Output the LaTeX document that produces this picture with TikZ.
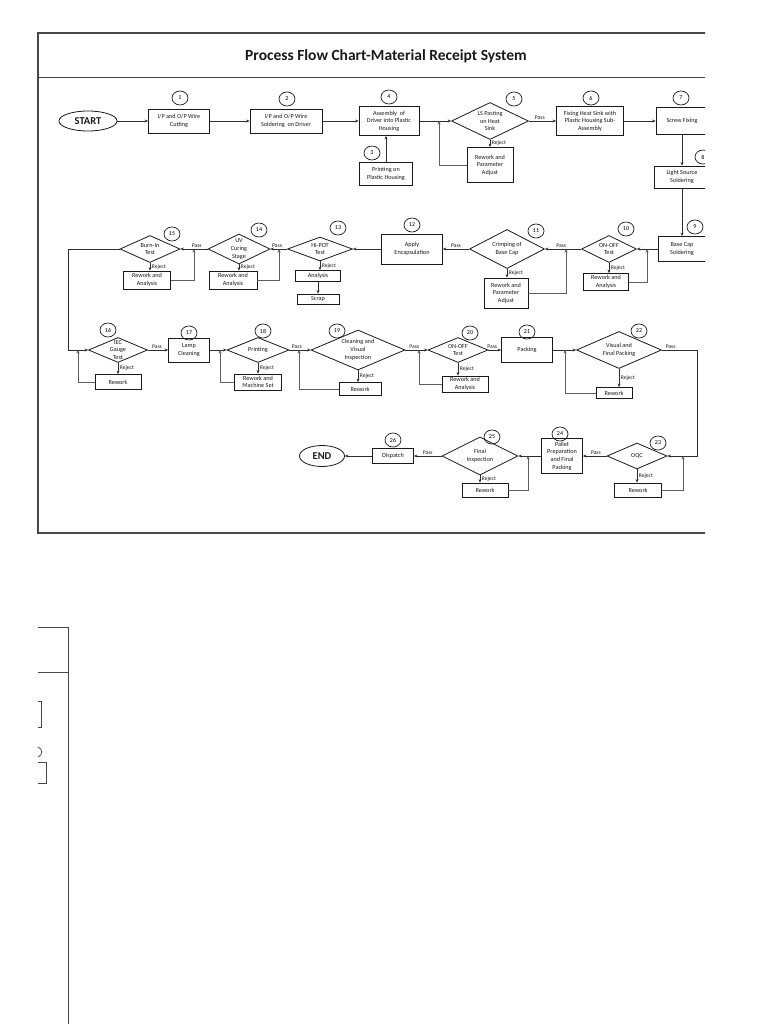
\documentclass[tikz,border=0pt]{standalone}
\usepackage{fontspec}
\setmainfont{Carlito}
\usepackage{xcolor}
\usetikzlibrary{
  arrows.meta, positioning, shapes.geometric, calc
}
\definecolor{pfink}{HTML}{1A1A1A}
\definecolor{pfline}{HTML}{2E2E2E}
\definecolor{pfloop}{HTML}{5E5E5E}
\definecolor{pfframe}{HTML}{474747}

\begin{document}
\begin{tikzpicture}[x=1pt, y=-1pt,
  procbox/.style={rectangle, draw=pfink, line width=0.8pt, fill=white,
    inner sep=0.5pt, align=center, font=\fontsize{6.2}{7.6}\selectfont, text=pfink},
  chkdiamond/.style={diamond, draw=pfink, line width=0.8pt, fill=white,
    inner sep=0pt, inner ysep=-2pt, aspect=2, align=center,
    font=\fontsize{6.2}{7.8}\selectfont, text=pfink},
  termnode/.style={ellipse, draw=pfink, line width=0.8pt, inner sep=0pt,
    font=\fontsize{10.5}{11}\selectfont\bfseries, text=pfink},
  numtag/.style={ellipse, draw=pfink, line width=0.7pt, minimum width=16pt,
    minimum height=14pt, inner sep=0pt, font=\fontsize{6}{6}\selectfont},
  flowarr/.style={-{Stealth[length=3.5pt,width=3pt]}, draw=pfline, line width=0.7pt},
  looparr/.style={flowarr, draw=pfloop},
  passlbl/.style={font=\fontsize{5.6}{6}\selectfont, text=pfink, inner sep=1.5pt}
]
  \useasboundingbox (0,0) rectangle (768,1024);
  \begin{scope}
  \clip (0,0) rectangle (705,1024);
  \draw[pfframe, line width=1.2pt] (710,33) -- (38,33) -- (38,533) -- (710,533);
  \draw[pfframe, line width=1pt] (38,78) -- (710,78);
  \node[font=\fontsize{15.5}{17}\selectfont\bfseries, text=pfink] (title) at (386,56)
    {Process Flow Chart-Material Receipt System};

  % row 1
  \node[termnode, minimum width=58pt, minimum height=20pt] (start) at (88,121) {START};
  \node[procbox, minimum width=61pt, minimum height=24pt] (b1) at (179,121) {I/P and O/P Wire\\Cutting};
  \node[procbox, minimum width=72pt, minimum height=24pt] (b2) at (286,121) {I/P and O/P Wire\\Soldering\ \ on Driver};
  \node[procbox, minimum width=60pt, minimum height=29pt] (b4) at (389,121) {Assembly\ \ of\\Driver into Plastic\\Housing};
  \node[procbox, minimum width=53pt, minimum height=23pt] (b3) at (386,174) {Printing on\\Plastic Housing};
  \node[chkdiamond, minimum width=77pt, minimum height=37pt] (d5) at (490,121) {LS Pasting\\on Heat\\Sink};
  \node[procbox, minimum width=46pt, minimum height=35pt] (rw5) at (490,165) {Rework and\\Parameter\\Adjust};
  \node[procbox, minimum width=67pt, minimum height=29pt] (b6) at (590,121) {Fixing Heat Sink with\\Plastic Housing Sub-\\Assembly};
  \node[procbox, minimum width=52pt, minimum height=27pt] (b7) at (682,121) {Screw Fixing};
  \node[procbox, minimum width=56pt, minimum height=22pt] (b8) at (682,177) {Light Source\\Soldering};
  \node[procbox, minimum width=48pt, minimum height=25pt] (b9) at (682,249) {Base Cap\\Soldering};

  % row 2
  \node[chkdiamond, minimum width=55pt, minimum height=27pt] (d10) at (609,249) {ON-OFF\\Test};
  \node[procbox, minimum width=45pt, minimum height=17pt] (rw10) at (606,282) {Rework and\\Analysis};
  \node[chkdiamond, minimum width=75pt, minimum height=39pt] (d11) at (507,249) {Crimping of\\Base Cap};
  \node[procbox, minimum width=44pt, minimum height=30pt] (rw11) at (506,293) {Rework and\\Parameter\\Adjust};
  \node[procbox, minimum width=61pt, minimum height=30pt] (b12) at (412,249) {Apply\\Encapsulation};
  \node[chkdiamond, minimum width=65pt, minimum height=24pt] (d13) at (320,249) {HI-POT\\Test};
  \node[procbox, minimum width=45pt, minimum height=11pt] (an13) at (318,276) {Analysis};
  \node[procbox, minimum width=42pt, minimum height=10pt] (sc13) at (318,299) {Scrap};
  \node[chkdiamond, minimum width=62pt, minimum height=30pt] (d14) at (239,249) {UV\\Curing\\Stage};
  \node[procbox, minimum width=48pt, minimum height=18pt] (rw14) at (233,280) {Rework and\\Analysis};
  \node[chkdiamond, minimum width=60pt, minimum height=27pt] (d15) at (150,249) {Burn-In\\Test};
  \node[procbox, minimum width=47pt, minimum height=18pt] (rw15) at (147,280) {Rework and\\Analysis};

  % row 3
  \node[chkdiamond, minimum width=59pt, minimum height=25pt] (d16) at (118,350) {IEC\\Gauge\\Test};
  \node[procbox, minimum width=46pt, minimum height=15pt] (rw16) at (118,382) {Rework};
  \node[procbox, minimum width=41pt, minimum height=24pt] (b17) at (189,350) {Lamp\\Cleaning};
  \node[chkdiamond, minimum width=62pt, minimum height=25pt] (d18) at (258,350) {Printing};
  \node[procbox, minimum width=47pt, minimum height=16pt] (rw18) at (258,382) {Rework and\\Machine Set};
  \node[chkdiamond, minimum width=94pt, minimum height=40pt] (d19) at (358,350) {Cleaning and\\Visual\\Inspection};
  \node[procbox, minimum width=42pt, minimum height=13pt] (rw19) at (360,389) {Rework};
  \node[chkdiamond, minimum width=60pt, minimum height=25pt] (d20) at (458,350) {ON-OFF\\Test};
  \node[procbox, minimum width=46pt, minimum height=16pt] (rw20) at (465,384) {Rework and\\Analysis};
  \node[procbox, minimum width=51pt, minimum height=25pt] (b21) at (527,350) {Packing};
  \node[chkdiamond, minimum width=85pt, minimum height=37pt] (d22) at (619,350) {Visual and\\Final Packing};
  \node[procbox, minimum width=36pt, minimum height=11pt] (rw22) at (614,393) {Rework};

  % row 4
  \node[chkdiamond, minimum width=60pt, minimum height=26pt] (d23) at (637,456) {OQC};
  \node[procbox, minimum width=47pt, minimum height=14pt] (rw23) at (638,490) {Rework};
  \node[procbox, minimum width=41pt, minimum height=35pt] (b24) at (562,456) {Pallet\\Preparation\\and Final\\Packing};
  \node[chkdiamond, minimum width=76pt, minimum height=38pt] (d25) at (480,456) {Final\\Inspection};
  \node[procbox, minimum width=46pt, minimum height=14pt] (rw25) at (485,490) {Rework};
  \node[procbox, minimum width=41pt, minimum height=15pt] (b26) at (393,456) {Dispatch};
  \node[termnode, minimum width=45pt, minimum height=21pt] (end) at (322,456) {END};

  % step numbers
  \node[numtag] (n1) at (180,98) {1};
  \node[numtag] (n2) at (287,99) {2};
  \node[numtag] (n3) at (372,153) {3};
  \node[numtag] (n4) at (389,97) {4};
  \node[numtag] (n5) at (514,99) {5};
  \node[numtag] (n6) at (591,98) {6};
  \node[numtag] (n7) at (681,98) {7};
  \node[numtag] (n8) at (703,157) {8};
  \node[numtag] (n9) at (695,227) {9};
  \node[numtag] (n10) at (626,229) {10};
  \node[numtag] (n11) at (536,231) {11};
  \node[numtag] (n12) at (412,225) {12};
  \node[numtag] (n13) at (338,228) {13};
  \node[numtag] (n14) at (259,230) {14};
  \node[numtag] (n15) at (172,234) {15};
  \node[numtag] (n16) at (108,330) {16};
  \node[numtag] (n17) at (189,333) {17};
  \node[numtag] (n18) at (263,331) {18};
  \node[numtag] (n19) at (337,331) {19};
  \node[numtag] (n20) at (470,333) {20};
  \node[numtag] (n21) at (527,332) {21};
  \node[numtag] (n22) at (639,331) {22};
  \node[numtag] (n23) at (658,443) {23};
  \node[numtag] (n24) at (560,434) {24};
  \node[numtag] (n25) at (492,437) {25};
  \node[numtag] (n26) at (393,440) {26};

  % loop joints
  \coordinate (j5) at (439,121);
  \coordinate (j10) at (647,249);
  \coordinate (j11) at (566,249);
  \coordinate (j14) at (279,249);
  \coordinate (j15) at (194,249);
  \coordinate (k15) at (68,249);
  \coordinate (j16) at (78,350);
  \coordinate (j18) at (220,350);
  \coordinate (j19) at (299,350);
  \coordinate (j20) at (419,350);
  \coordinate (j22) at (565,350);
  \coordinate (k22) at (697,350);
  \coordinate (j23) at (683,456);
  \coordinate (j25) at (528,456);

  \draw[flowarr] (start) -- (b1);
  \draw[flowarr] (b1) -- (b2);
  \draw[flowarr] (b2) -- (b4);
  \draw[flowarr] (b3) -- (b3 |- b4.south);
  \draw[flowarr] (b4) -- (d5);
  \draw[flowarr] (d5) -- node[passlbl, right]{Reject} (d5 |- rw5.north);
  \draw[looparr] (rw5.west) -| (j5);
  \draw[flowarr] (d5) -- node[passlbl, above, pos=0.4]{Pass} (b6);
  \draw[flowarr] (b6) -- (b7);
  \draw[flowarr] (b7) -- (b8);
  \draw[flowarr] (b8) -- (b9);

  \draw[flowarr] (b9) -- (d10);
  \draw[flowarr] (d10) -- node[passlbl, right]{Reject} (d10 |- rw10.north);
  \draw[looparr] (rw10.east) -| (j10);
  \draw[flowarr] (d10) -- node[passlbl, above, pos=0.55]{Pass} (d11);
  \draw[flowarr] (d11) -- node[passlbl, right]{Reject} (d11 |- rw11.north);
  \draw[looparr] (rw11.east) -| (j11);
  \draw[flowarr] (d11) -- node[passlbl, above, pos=0.5]{Pass} (b12);
  \draw[flowarr] (b12) -- (d13);
  \draw[flowarr] (d13) -- node[passlbl, right]{Reject} (d13 |- an13.north);
  \draw[flowarr] (an13) -- (sc13);
  \draw[flowarr] (d13) -- node[passlbl, above, pos=0.6]{Pass} (d14);
  \draw[flowarr] (d14) -- node[passlbl, right]{Reject} (d14 |- rw14.north);
  \draw[looparr] (rw14.east) -| (j14);
  \draw[flowarr] (d14) -- node[passlbl, above, pos=0.4]{Pass} (d15);
  \draw[flowarr] (d15) -- node[passlbl, right]{Reject} (d15 |- rw15.north);
  \draw[looparr] (rw15.east) -| (j15);
  \draw[flowarr] (d15.west) -- (k15) |- (d16.west);

  \draw[flowarr] (d16) -- node[passlbl, right]{Reject} (rw16);
  \draw[looparr] (rw16.west) -| (j16);
  \draw[flowarr] (d16) -- node[passlbl, above, pos=0.45]{Pass} (b17);
  \draw[flowarr] (b17) -- (d18);
  \draw[flowarr] (d18) -- node[passlbl, right]{Reject} (rw18);
  \draw[looparr] (rw18.west) -| (j18);
  \draw[flowarr] (d18) -- node[passlbl, above, pos=0.35]{Pass} (d19);
  \draw[flowarr] (d19) -- node[passlbl, right]{Reject} (d19 |- rw19.north);
  \draw[looparr] (rw19.west) -| (j19);
  \draw[flowarr] (d19) -- node[passlbl, above, pos=0.4]{Pass} (d20);
  \draw[flowarr] (d20) -- node[passlbl, right]{Reject} (d20 |- rw20.north);
  \draw[looparr] (rw20.west) -| (j20);
  \draw[flowarr] (d20) -- node[passlbl, above, pos=0.3]{Pass} (b21);
  \draw[flowarr] (b21) -- (d22);
  \draw[flowarr] (d22) -- node[passlbl, right]{Reject} (d22 |- rw22.north);
  \draw[looparr] (rw22.west) -| (j22);
  \draw[flowarr] (d22.east) -- node[passlbl, above, pos=0.25]{Pass} (k22) |- (d23.east);

  \draw[flowarr] (d23) -- node[passlbl, right]{Reject} (d23 |- rw23.north);
  \draw[looparr] (rw23.east) -| (j23);
  \draw[flowarr] (d23) -- node[passlbl, above, pos=0.45]{Pass} (b24);
  \draw[flowarr] (b24) -- (d25);
  \draw[flowarr] (d25) -- node[passlbl, right]{Reject} (d25 |- rw25.north);
  \draw[looparr] (rw25.east) -| (j25);
  \draw[flowarr] (d25) -- node[passlbl, above, pos=0.5]{Pass} (b26);
  \draw[flowarr] (b26) -- (end);
  \end{scope}

  % next page edge
  \draw[pfframe, line width=0.9pt] (38,627) -- (68,627) -- (68,1024);
  \draw[pfframe, line width=0.9pt] (38,672) -- (68,672);
  \draw[pfframe, line width=0.8pt] (38,701) -- (41,701) -- (41,727) -- (38,727);
  \draw[pfframe, line width=0.8pt] (38,747) .. controls (43,749) and (43,755) .. (38,757);
  \draw[pfframe, line width=0.8pt] (38,762) -- (46,762) -- (46,783) -- (38,783);
\end{tikzpicture}
\end{document}
